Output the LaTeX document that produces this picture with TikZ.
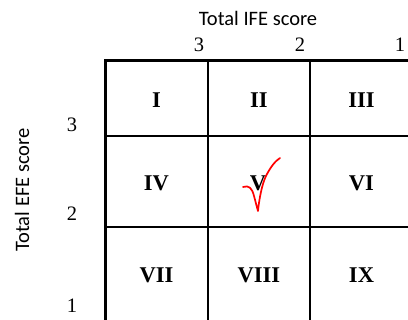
\documentclass[tikz,border=0pt]{standalone}
\usepackage{fontspec}
\setmainfont{Liberation Serif}
\newfontfamily\axisfont{Carlito}
\begin{document}
\begin{tikzpicture}[x=1pt,y=-1pt,
  cell/.style={font=\fontsize{22.5}{24}\selectfont\bfseries, inner sep=0pt},
  num/.style={font=\fontsize{20.5}{22}\selectfont, inner sep=0pt},
  axis/.style={font=\axisfont\fontsize{20.5}{22}\selectfont, inner sep=0pt},
  inner/.style={line width=2pt},
  outer/.style={line width=3pt}]
\useasboundingbox (0,0) rectangle (408,320);
\begin{scope}
\clip (0,0) rectangle (408,320);
% inner lines
\draw[inner] (208,61) -- (208,330);
\draw[inner] (310,61) -- (310,330);
\draw[inner] (105,136) -- (420,136);
\draw[inner] (105,227) -- (420,227);
\draw[inner] (413,61) -- (413,330);
% outer
\draw[outer] (105,330) -- (105,61) -- (420,61);
\end{scope}
% cell labels
\node[cell] (c1) at (156.5,100) {I};
\node[cell] (c2) at (259,100) {II};
\node[cell] (c3) at (361.5,100) {III};
\node[cell] (c4) at (156.5,183) {IV};
\node[cell] (c5) at (258,183) {V};
\node[cell] (c6) at (361.5,183) {VI};
\node[cell] (c7) at (156.5,275) {VII};
\node[cell] (c8) at (259,275) {VIII};
\node[cell] (c9) at (361.5,275) {IX};
% top axis
\node[axis] (ifetitle) at (258,18) {Total IFE score};
\node[num] (t3) at (199,45) {3};
\node[num] (t2) at (300,45) {2};
\node[num] (t1) at (400,45) {1};
% left axis
\node[axis, rotate=90] (efetitle) at (22,190) {Total EFE score};
\node[num] (l3) at (72,125) {3};
\node[num] (l2) at (72,214) {2};
\node[num] (l1) at (72,306) {1};
% check mark
\draw[red, line width=1.7pt, line cap=round, line join=round]
  (243,187) .. controls (249,185) and (252,188) .. (254,196)
  .. controls (256,203) and (257,208) .. (258,211)
  .. controls (259,200) and (262,184) .. (266,176)
  .. controls (270,168) and (275,161) .. (280,158);
\end{tikzpicture}
\end{document}
